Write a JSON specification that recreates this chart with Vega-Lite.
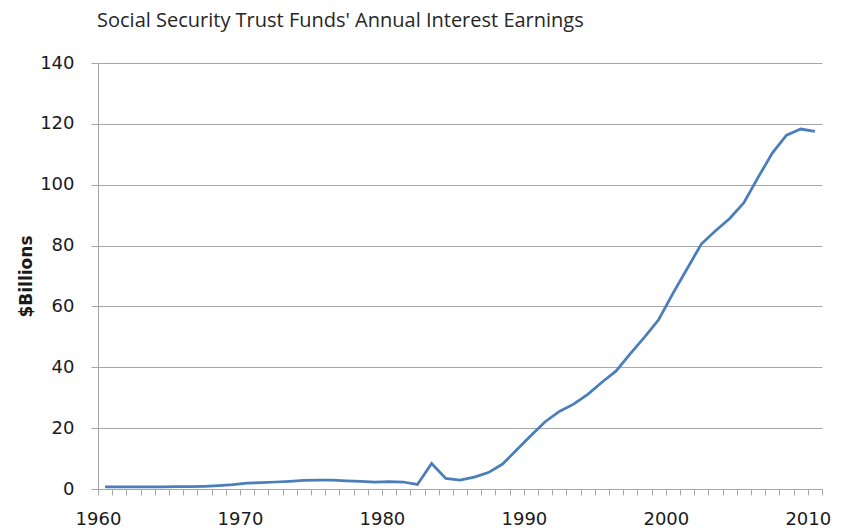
{
  "$schema": "https://vega.github.io/schema/vega-lite/v6.json",
  "autosize": "none",
  "width": 724,
  "height": 426,
  "padding": {"left": 98, "top": 63, "right": 21, "bottom": 40},
  "background": "white",
  "title": {
    "text": "Social Security Trust Funds' Annual Interest Earnings",
    "anchor": "start",
    "frame": "group",
    "font": "Open Sans",
    "fontSize": 20,
    "fontWeight": "normal",
    "color": "#262626",
    "baseline": "alphabetic",
    "offset": 7,
    "dx": -1
  },
  "config": {
    "view": {"stroke": null},
    "axis": {
      "labelFont": "DejaVu Sans",
      "labelFontSize": 18,
      "labelColor": "#1a1a1a",
      "domainColor": "#a6a6a6",
      "tickColor": "#a6a6a6",
      "gridColor": "#a6a6a6",
      "domainWidth": 1,
      "tickWidth": 1,
      "gridWidth": 1
    }
  },
  "data": {
    "values": [
      {"year": 1960, "value": 0.7},
      {"year": 1961, "value": 0.7},
      {"year": 1962, "value": 0.7},
      {"year": 1963, "value": 0.7},
      {"year": 1964, "value": 0.7},
      {"year": 1965, "value": 0.8},
      {"year": 1966, "value": 0.8},
      {"year": 1967, "value": 0.9},
      {"year": 1968, "value": 1.1},
      {"year": 1969, "value": 1.4},
      {"year": 1970, "value": 1.9},
      {"year": 1971, "value": 2.1},
      {"year": 1972, "value": 2.3},
      {"year": 1973, "value": 2.5},
      {"year": 1974, "value": 2.8},
      {"year": 1975, "value": 2.9},
      {"year": 1976, "value": 2.9},
      {"year": 1977, "value": 2.7},
      {"year": 1978, "value": 2.5},
      {"year": 1979, "value": 2.3},
      {"year": 1980, "value": 2.4},
      {"year": 1981, "value": 2.3},
      {"year": 1982, "value": 1.5},
      {"year": 1983, "value": 8.4},
      {"year": 1984, "value": 3.5},
      {"year": 1985, "value": 2.9},
      {"year": 1986, "value": 3.9},
      {"year": 1987, "value": 5.4},
      {"year": 1988, "value": 8.2},
      {"year": 1989, "value": 12.9},
      {"year": 1990, "value": 17.6},
      {"year": 1991, "value": 22.1},
      {"year": 1992, "value": 25.5},
      {"year": 1993, "value": 27.9},
      {"year": 1994, "value": 31.1},
      {"year": 1995, "value": 35.1},
      {"year": 1996, "value": 38.8},
      {"year": 1997, "value": 44.5},
      {"year": 1998, "value": 49.9},
      {"year": 1999, "value": 55.7},
      {"year": 2000, "value": 64.3},
      {"year": 2001, "value": 72.4},
      {"year": 2002, "value": 80.5},
      {"year": 2003, "value": 84.9},
      {"year": 2004, "value": 88.9},
      {"year": 2005, "value": 94.1},
      {"year": 2006, "value": 102.4},
      {"year": 2007, "value": 110.4},
      {"year": 2008, "value": 116.3},
      {"year": 2009, "value": 118.3},
      {"year": 2010, "value": 117.5}
    ]
  },
  "mark": {"type": "line", "color": "#4a7ebb", "strokeWidth": 2.75},
  "encoding": {
    "x": {
      "field": "year",
      "type": "quantitative",
      "scale": {"domain": [1959.5, 2010.5], "nice": false, "zero": false},
      "axis": {
        "title": null,
        "grid": false,
        "values": [1959.5, 1960.5, 1961.5, 1962.5, 1963.5, 1964.5, 1965.5, 1966.5, 1967.5, 1968.5, 1969.5, 1970.5, 1971.5, 1972.5, 1973.5, 1974.5, 1975.5, 1976.5, 1977.5, 1978.5, 1979.5, 1980.5, 1981.5, 1982.5, 1983.5, 1984.5, 1985.5, 1986.5, 1987.5, 1988.5, 1989.5, 1990.5, 1991.5, 1992.5, 1993.5, 1994.5, 1995.5, 1996.5, 1997.5, 1998.5, 1999.5, 2000.5, 2001.5, 2002.5, 2003.5, 2004.5, 2005.5, 2006.5, 2007.5, 2008.5, 2009.5, 2010.5],
        "labelExpr": "(datum.value + 0.5) % 10 === 0 ? format(datum.value + 0.5, 'd') : ''",
        "labelDx": 7.1,
        "labelFlush": false,
        "labelOverlap": false,
        "labelBound": false,
        "tickSize": 6,
        "labelPadding": 15
      }
    },
    "y": {
      "field": "value",
      "type": "quantitative",
      "scale": {"domain": [0, 140], "nice": false},
      "axis": {
        "values": [0, 20, 40, 60, 80, 100, 120, 140],
        "title": "$Billions",
        "titleFont": "DejaVu Sans",
        "titleFontSize": 17,
        "titleFontWeight": "bold",
        "titleColor": "#1a1a1a",
        "titleBaseline": "middle",
        "titleX": -72,
        "titleY": 213,
        "tickSize": 7,
        "labelPadding": 17,
        "grid": true
      }
    }
  }
}
